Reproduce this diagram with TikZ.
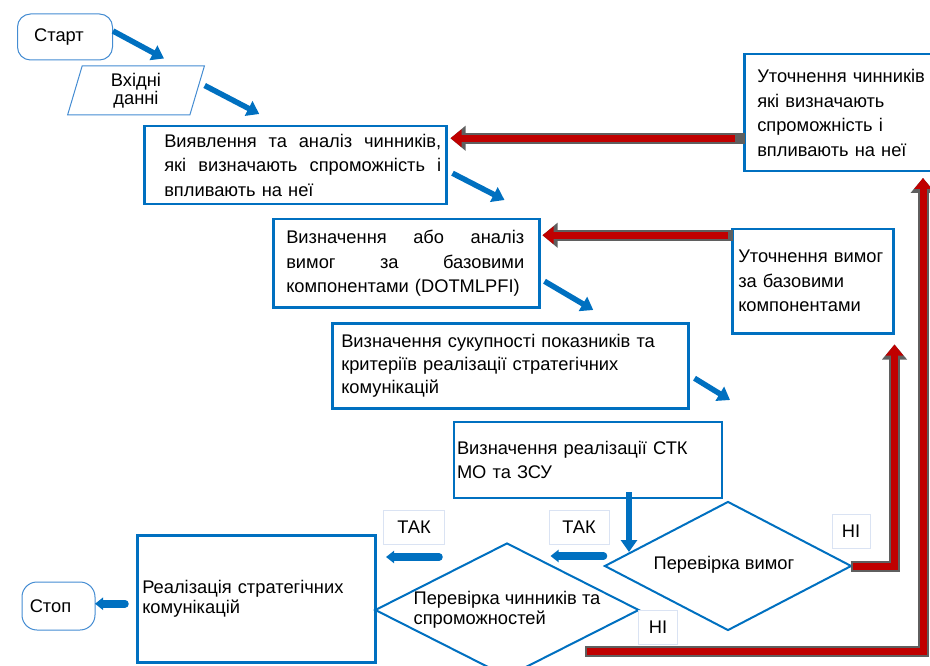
\documentclass[tikz,border=0pt]{standalone}
\usepackage{fontspec}
\setmainfont{Liberation Sans}
\usetikzlibrary{shapes.geometric,arrows.meta}
\definecolor{boxblue}{RGB}{0,112,192}
\definecolor{lineblue}{RGB}{68,140,210}
\definecolor{darkred}{RGB}{192,0,0}
\definecolor{rimgrey}{RGB}{95,95,95}
\definecolor{tagrim}{RGB}{218,227,243}
\begin{document}
\begin{tikzpicture}[x=1pt,y=-1pt,
  every node/.style={font=\fontsize{18.3}{24.5}\selectfont,inner sep=0pt},
  blk/.style={draw=boxblue,line width=2.5pt,anchor=north west,align=left},
  term/.style={draw=lineblue,line width=1pt,rounded corners=13pt},
  dia/.style={diamond,draw=boxblue,line width=2pt},
  tag/.style={draw=tagrim,line width=.8pt,minimum height=34pt},
  bluearr/.style={draw=boxblue,line width=5.5pt,-{Triangle[width=16pt,length=12pt]}},
  tak/.style={draw=boxblue,line width=7.5pt,line cap=round,-{Triangle[width=12pt,length=8pt]}},
  redarr/.style={draw=darkred,line width=7pt,-{Triangle[width=17pt,length=11pt]},
    preaction={draw=rimgrey,line width=11pt,shorten <=-2pt,-{Triangle[width=24pt,length=15pt]}}}]
\useasboundingbox (0,0) rectangle (930,666);
% start and input
\node[term,minimum width=95pt,minimum height=46pt] (start) at (65,37) {\hspace*{-12pt}Старт};
\node[trapezium,trapezium left angle=79,trapezium right angle=101,trapezium stretches=true,
  draw=lineblue,line width=1pt,minimum width=137pt,minimum height=49pt,align=center,
  font=\fontsize{18.3}{16.5}\selectfont] (input) at (136,90.5) {Вхідні\\данні};
% main boxes, edit here for the text
\node[blk,minimum width=302pt,minimum height=78pt,inner xsep=5pt,text width=292pt] (box1) at (143,125)
  {\hspace*{15pt}\makebox[277pt]{Виявлення\hfill та\hfill аналіз\hfill чинників,}\\
   \hspace*{15pt}\makebox[277pt]{які\hfill визначають\hfill спроможність\hfill і}\\
   \hspace*{15pt}впливають на неї};
\node[blk,minimum width=266pt,minimum height=88pt,inner xsep=13pt,text width=240pt] (box2) at (272,218)
  {\makebox[238pt]{Визначення\hfill або\hfill аналіз}\\
   \makebox[238pt]{вимог\hfill за\hfill базовими}\\
   компонентами (DOTMLPFI)};
\node[blk,minimum width=356pt,minimum height=85pt,inner xsep=9pt,text width=338pt,
  font=\fontsize{18.3}{23}\selectfont] (box3) at (331,322)
  {Визначення сукупності показників та\\критеріїв реалізації стратегічних\\комунікацій};
\node[blk,line width=2pt,minimum width=268pt,minimum height=76pt,inner xsep=3pt,text width=262pt] (box4) at (453,421)
  {Визначення реалізації СТК\\МО та ЗСУ};
\node[blk,minimum width=238pt,minimum height=127pt,inner xsep=5pt,text width=228pt,
  font=\fontsize{18.3}{20}\selectfont] (box5) at (136,534)
  {Реалізація стратегічних\\комунікацій};
\node[term,minimum width=73pt,minimum height=48pt,rounded corners=15pt] (stop) at (58.5,606) {\hspace*{-16pt}Стоп};
% feedback boxes
\node[blk,minimum height=117pt,inner xsep=13pt,text width=175pt] (box6) at (743,53)
  {Уточнення чинників\\які визначають\\спроможність і\\впливають на неї};
\node[blk,minimum width=161pt,minimum height=104pt,inner xsep=6pt,text width=149pt] (box7) at (731,228)
  {Уточнення вимог\\за базовими\\компонентами};
% checks
\node[dia,minimum width=247pt,minimum height=129pt,aspect=2] (chk1) at (728,566)
  {\raisebox{6pt}{\hspace*{-8pt}Перевірка вимог}};
\node[dia,minimum width=264pt,minimum height=134pt,
  label={[name=chk2txt,align=left,font=\fontsize{18.3}{20}\selectfont]center:Перевірка чинників та\\спроможностей}] (chk2) at (507,610) {};
\foreach \x/\y/\w/\t in {414/527/61/ТАК, 579/527/60/ТАК, 851/531/38/НІ, 658/627/39/НІ}
  \node[tag,minimum width=\w pt] (tag\x) at (\x,\y) {\t};
% blue arrows
\coordinate (free3) at (730,400);
\draw[bluearr] ([yshift=6pt]start.east) -- ([xshift=28pt,yshift=7pt]input.north);
\draw[bluearr] ([xshift=7pt,yshift=5pt]input.east) -- ([xshift=-36pt,yshift=11pt]box1.north);
\draw[bluearr] ([xshift=5pt,yshift=-8pt]box1.east) -- ([xshift=-36pt,yshift=18pt]box2.north east);
\draw[bluearr] ([xshift=4pt,yshift=-18pt]box2.east) -- ([xshift=83pt,yshift=12pt]box3.north);
\draw[bluearr] ([xshift=5pt,yshift=-12.5pt]box3.east) -- (free3);
\draw[bluearr] ([xshift=41pt,yshift=7pt]box4.south) -- ++(0,60);
\draw[tak] ([yshift=10pt]chk1.west) -- ++(-53,0);
\draw[tak] ([xshift=-68pt,yshift=-15pt]chk2.north) -- ++(-53,0);
\draw[tak] ([xshift=-11pt,yshift=-5pt]box5.west) -- ++(-30,0);
% red feedback arrows
\coordinate (r6) at ([yshift=-25.5pt]box6.west);
\coordinate (r7) at ([yshift=46pt]box7.west);
\coordinate (no2) at (587,651);
\coordinate (up6) at (923,178);
\draw[redarr,shorten <=8pt,shorten >=3pt] (r6) -- (r6 -| box1.east);
\draw[redarr,shorten <=3pt,shorten >=2pt] (r7) -- (r7 -| box2.east);
\draw[redarr] (chk1.east) -| ([yshift=-10pt]box7.south east);
\draw[redarr] (no2) -| (up6);
\end{tikzpicture}
\end{document}
